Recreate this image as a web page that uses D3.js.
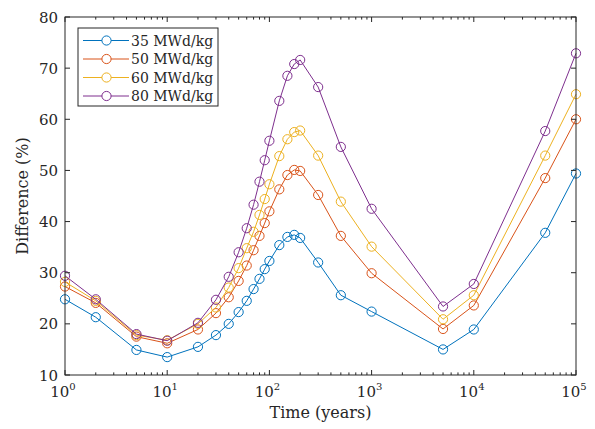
<!DOCTYPE html>
<html>
<head>
<meta charset="utf-8">
<script src="https://cdn.jsdelivr.net/npm/d3@7"></script>
<style>
  body { margin: 0; background: #fff; }
</style>
</head>
<body>
<div id="chart"></div>
<script>
// data
const years = [1, 2, 5, 10, 20, 30, 40, 50, 60, 70, 80, 90, 100, 125, 150, 175, 200, 300, 500, 1000, 5000, 10000, 50000, 100000];
const burn35 = [24.8, 21.3, 14.9, 13.5, 15.5, 17.8, 20.0, 22.3, 24.5, 26.8, 28.8, 30.7, 32.3, 35.4, 37.0, 37.4, 36.8, 32.0, 25.6, 22.4, 15.0, 18.9, 37.8, 49.4];
const burn50 = [27.3, 24.1, 17.5, 16.2, 18.9, 22.1, 25.2, 28.4, 31.4, 34.4, 37.2, 39.7, 42.0, 46.3, 49.1, 50.1, 49.9, 45.2, 37.2, 29.9, 19.0, 23.6, 48.5, 60.0];
const burn60 = [28.2, 24.5, 17.8, 16.8, 20.0, 23.2, 27.1, 30.9, 34.8, 38.0, 41.3, 44.4, 47.3, 52.8, 56.1, 57.5, 57.8, 52.9, 43.9, 35.1, 20.9, 25.6, 52.9, 64.9];
const burn80 = [29.4, 24.8, 18.0, 16.7, 20.2, 24.7, 29.2, 34.0, 38.7, 43.3, 47.8, 52.0, 55.8, 63.6, 68.5, 70.8, 71.6, 66.3, 54.6, 42.5, 23.4, 27.8, 57.7, 72.9];
const seriesNames = ["35 MWd/kg", "50 MWd/kg", "60 MWd/kg", "80 MWd/kg"];
const colors = ["#0072BD", "#D95319", "#EDB120", "#7E2F8E"];
const yTicks = [10, 20, 30, 40, 50, 60, 70, 80];
const xTicks = [1, 10, 100, 1000, 10000, 100000];

const width = 595, height = 429;
const margin = { top: 17, right: 19, bottom: 54, left: 65 };
const chartWidth = width - margin.left - margin.right;
const chartHeight = height - margin.top - margin.bottom;
const serif = "DejaVu Serif";

const svg = d3.select("#chart").append("svg")
    .attr("width", width)
    .attr("height", height)
    .attr("font-family", serif);

const g = svg.append("g")
    .attr("transform", `translate(${margin.left}, ${margin.top})`);

const x = d3.scaleLog().domain([1, 100000]).range([0, chartWidth]);
const y = d3.scaleLinear().domain([10, 80]).range([chartHeight, 0]);

// minor ticks on log axis
const minorTicks = [];
xTicks.slice(0, -1).forEach(d => {
    for (let k = 2; k <= 9; k++) minorTicks.push(d * k);
});

const axisColor = "#262626";

// series
const allSeries = [burn35, burn50, burn60, burn80];
const line = d3.line()
    .x((d, i) => x(years[i]))
    .y(d => y(d));

allSeries.forEach((vals, s) => {
    g.append("path")
        .datum(vals)
        .attr("d", line)
        .attr("fill", "none")
        .attr("stroke", colors[s])
        .attr("stroke-width", 1);
    g.selectAll(".pt" + s)
        .data(vals)
        .enter().append("circle")
        .attr("cx", (d, i) => x(years[i]))
        .attr("cy", d => y(d))
        .attr("r", 4.6)
        .attr("fill", "none")
        .attr("stroke", colors[s])
        .attr("stroke-width", 1);
});

// axes box + ticks
const axes = g.append("g").attr("stroke", axisColor).attr("stroke-width", 1);
axes.append("rect")
    .attr("x", 0).attr("y", 0)
    .attr("width", chartWidth).attr("height", chartHeight)
    .attr("fill", "none");

xTicks.forEach(d => {
    axes.append("line").attr("x1", x(d)).attr("x2", x(d)).attr("y1", chartHeight).attr("y2", chartHeight - 5);
    axes.append("line").attr("x1", x(d)).attr("x2", x(d)).attr("y1", 0).attr("y2", 5);
});
minorTicks.forEach(d => {
    axes.append("line").attr("x1", x(d)).attr("x2", x(d)).attr("y1", chartHeight).attr("y2", chartHeight - 2.6);
    axes.append("line").attr("x1", x(d)).attr("x2", x(d)).attr("y1", 0).attr("y2", 2.6);
});
yTicks.forEach(d => {
    axes.append("line").attr("x1", 0).attr("x2", 5).attr("y1", y(d)).attr("y2", y(d));
    axes.append("line").attr("x1", chartWidth).attr("x2", chartWidth - 5).attr("y1", y(d)).attr("y2", y(d));
});

// tick labels
g.selectAll(".ylab")
    .data(yTicks)
    .enter().append("text")
    .attr("x", -7)
    .attr("y", d => y(d) + 5.5)
    .attr("text-anchor", "end")
    .attr("font-family", serif)
    .attr("font-size", 15)
    .attr("fill", axisColor)
    .text(d => d);

xTicks.forEach(d => {
    const t = g.append("text")
        .attr("x", x(d) - 2)
        .attr("y", chartHeight + 22)
        .attr("text-anchor", "middle")
        .attr("font-family", serif)
        .attr("font-size", 15)
        .attr("fill", axisColor);
    t.append("tspan").text("10");
    t.append("tspan").attr("dy", -7).attr("font-size", 10).text(Math.round(Math.log10(d)));
});

// axis labels
g.append("text")
    .attr("x", chartWidth / 2)
    .attr("y", chartHeight + 43)
    .attr("text-anchor", "middle")
    .attr("font-family", serif)
    .attr("font-size", 16)
    .attr("fill", axisColor)
    .text("Time (years)");

g.append("text")
    .attr("transform", `translate(-37, ${chartHeight / 2}) rotate(-90)`)
    .attr("text-anchor", "middle")
    .attr("font-family", serif)
    .attr("font-size", 16)
    .attr("fill", axisColor)
    .text("Difference (%)");

// legend
const legend = svg.append("g").attr("transform", "translate(78, 28)");
legend.append("rect")
    .attr("width", 140).attr("height", 78)
    .attr("fill", "#fff")
    .attr("stroke", axisColor)
    .attr("stroke-width", 1);
seriesNames.forEach((name, s) => {
    const ly = 12.5 + s * 18.5;
    legend.append("line")
        .attr("x1", 5).attr("x2", 51)
        .attr("y1", ly).attr("y2", ly)
        .attr("stroke", colors[s]);
    legend.append("circle")
        .attr("cx", 28.5).attr("cy", ly).attr("r", 4.6)
        .attr("fill", "#fff")
        .attr("stroke", colors[s]);
    legend.append("text")
        .attr("x", 53).attr("y", ly + 5)
        .attr("font-family", serif)
        .attr("font-size", 14)
        .attr("fill", axisColor)
        .text(name);
});
</script>
</body>
</html>
